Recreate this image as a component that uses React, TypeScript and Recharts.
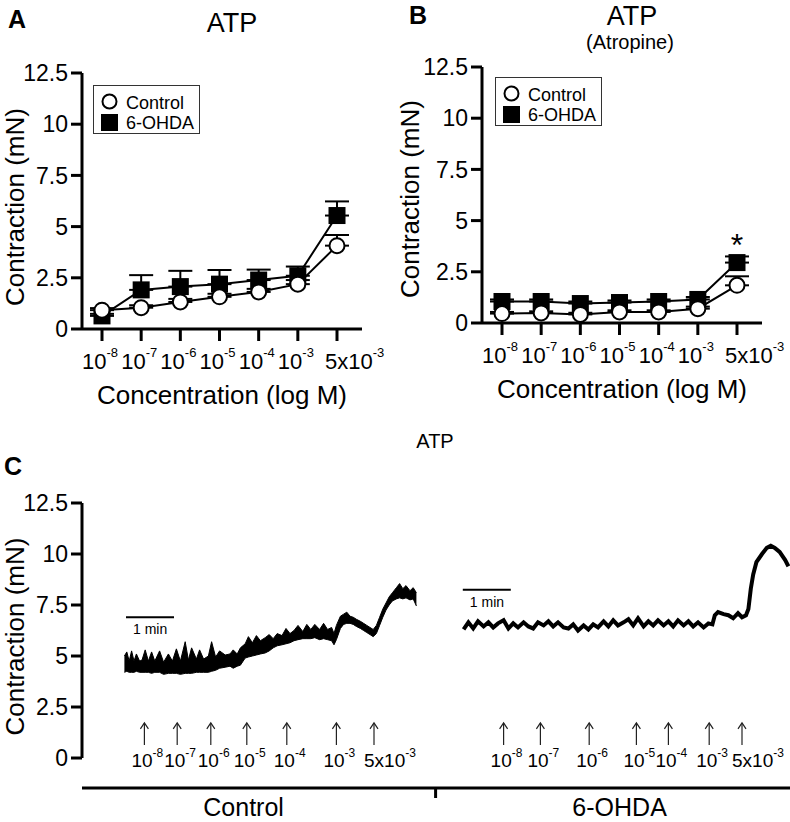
import React from 'react'
import {
  LineChart,
  ComposedChart,
  Line,
  Area,
  XAxis,
  YAxis,
  ErrorBar,
  Legend,
  LabelList,
  ReferenceDot,
  ReferenceLine,
} from 'recharts'

const FONT = '"Liberation Sans", Arial, Helvetica, sans-serif'

// ---- dose-response (panels A and B) ----
const concentrations = ['1e-8', '1e-7', '1e-6', '1e-5', '1e-4', '1e-3', '5e-3']
const concBase = ['10', '10', '10', '10', '10', '10', '5x10']
const concExp = ['-8', '-7', '-6', '-5', '-4', '-3', '-3']
const yTicks = [0, 2.5, 5, 7.5, 10, 12.5]

// A: ATP
const controlA = [0.92, 1.04, 1.32, 1.57, 1.81, 2.19, 4.07]
const controlAErr = [0.1, 0.12, 0.15, 0.15, 0.15, 0.2, 0.52]
const ohdaA = [0.64, 1.91, 2.07, 2.19, 2.39, 2.6, 5.54]
const ohdaAErr = [0.1, 0.72, 0.77, 0.69, 0.51, 0.45, 0.69]

// B: ATP with atropine
const controlB = [0.46, 0.49, 0.42, 0.54, 0.54, 0.7, 1.84]
const controlBErr = [0.08, 0.08, 0.08, 0.08, 0.08, 0.1, 0.44]
const ohdaB = [1.05, 1.05, 0.95, 1.0, 1.05, 1.15, 2.95]
const ohdaBErr = [0.1, 0.1, 0.1, 0.1, 0.1, 0.12, 0.3]
const signifB = ['', '', '', '', '', '', '*']

// ---- recording traces (panel C), time in seconds ----
const ctrlTime = [
  53, 56, 59, 62, 65, 68, 72, 75, 79, 83, 87, 91, 97, 102, 108, 113, 118, 123, 129, 133,
  137, 143, 147, 152, 158, 162, 167, 172, 179, 185, 189, 194, 198, 204, 208, 213, 218, 223, 229, 234,
  239, 244, 250, 255, 260, 265, 270, 276, 281, 286, 291, 297, 302, 307, 312, 315, 318, 323, 327, 331,
  335, 339, 343, 348, 352, 356, 360, 364, 368, 372, 376, 380, 384, 388, 393, 397, 401, 405, 410, 414, 418,
]
const ctrlLow = [
  4.2, 4.25, 4.2, 4.2, 4.2, 4.25, 4.2, 4.2, 4.2, 4.2, 4.15, 4.2, 4.2, 4.1, 4.15, 4.15, 4.15, 4.1, 4.15, 4.15,
  4.15, 4.2, 4.2, 4.2, 4.2, 4.25, 4.3, 4.4, 4.45, 4.5, 4.4, 4.5, 4.55, 4.9, 4.95, 5.0, 5.05, 5.1, 5.15, 5.25,
  5.4, 5.5, 5.55, 5.6, 5.65, 5.75, 5.8, 5.85, 5.85, 5.85, 5.9, 5.8, 5.85, 5.8, 5.75, 5.55, 5.8, 6.35, 6.55, 6.6,
  6.6, 6.55, 6.45, 6.35, 6.25, 6.15, 6.05, 5.95, 6.1, 6.5, 6.9, 7.25, 7.5, 7.7, 7.8, 7.85, 7.8, 7.85, 7.75, 7.8, 7.45,
]
const ctrlHigh = [
  5.0, 5.2, 4.75, 5.25, 4.75, 5.1, 4.75, 4.8, 5.3, 4.75, 5.2, 4.75, 5.25, 4.7, 5.1, 4.75, 5.35, 4.75, 5.7, 4.8,
  5.4, 4.85, 5.3, 4.85, 5.0, 5.7, 4.95, 5.25, 5.05, 5.1, 5.3, 5.1, 5.4, 5.6, 5.95, 5.65, 6.0, 5.75, 5.9, 6.05,
  5.85, 6.1, 6.0, 6.35, 6.1, 6.25, 6.5, 6.2, 6.55, 6.3, 6.55, 6.3, 6.6, 6.3, 6.4, 6.1, 6.5, 6.95, 7.05, 7.15,
  6.95, 6.9, 6.8, 6.7, 6.6, 6.5, 6.4, 6.3, 6.5, 6.9, 7.3, 7.6, 7.9, 8.1, 8.35, 8.55, 8.3, 8.45, 8.2, 8.35, 8.1,
]
const ohdaTime = [
  477, 483, 489, 495, 502, 508, 514, 520, 527, 533, 539, 545, 552, 558, 564, 570, 577, 583, 589, 595,
  602, 608, 614, 620, 627, 633, 639, 645, 652, 658, 664, 670, 677, 683, 689, 695, 702, 708, 714, 720,
  727, 733, 739, 745, 752, 758, 764, 770, 777, 783, 788, 791, 795, 802, 808, 814, 820, 825, 830, 833,
  836, 839, 843, 850, 856, 861, 866, 872, 879, 883,
]
const ohdaTrace = [
  6.3, 6.65, 6.35, 6.7, 6.45, 6.65, 6.4, 6.6, 6.75, 6.35, 6.6, 6.4, 6.65, 6.45, 6.35, 6.65, 6.5, 6.7, 6.45, 6.65,
  6.4, 6.35, 6.55, 6.25, 6.5, 6.3, 6.55, 6.4, 6.7, 6.45, 6.75, 6.5, 6.65, 6.8, 6.5, 6.85, 6.45, 6.7, 6.5, 6.75,
  6.5, 6.7, 6.45, 6.75, 6.5, 6.7, 6.45, 6.65, 6.4, 6.6, 6.55, 7.0, 7.15, 7.05, 7.0, 6.85, 7.1, 6.9, 7.0, 7.3,
  8.3, 9.0, 9.6, 10.0, 10.3, 10.4, 10.3, 10.1, 9.7, 9.4,
]
const timeDomain = [0, 885]
const traceYDomain = [-1.47, 12.5]
const ctrlDoseTimes = [78, 119, 161, 206, 256, 318, 365]
const ohdaDoseTimes = [527, 573, 634, 693, 733, 784, 825]
const arrowLevel = 1.72
const scaleBarStart = [55, 476]
const scaleBarLevel = [6.9, 8.25]
const scaleBarSeconds = 60
const groupNames = ['Control', '6-OHDA']
const groupCenters = [202, 672]
const groupDivider = 442

const rowsA = concentrations.map((conc, i) => ({
  conc,
  control: controlA[i],
  controlErr: [0, controlAErr[i]],
  ohda: ohdaA[i],
  ohdaErr: [0, ohdaAErr[i]],
}))
const rowsB = concentrations.map((conc, i) => ({
  conc,
  control: controlB[i],
  controlErr: [0, controlBErr[i]],
  ohda: ohdaB[i],
  ohdaErr: [0, ohdaBErr[i]],
  sig: signifB[i],
}))
const controlTrace = ctrlTime.map((t, i) => ({ t, band: [ctrlLow[i], ctrlHigh[i]] }))
const ohdaTraceRows = ohdaTime.map((t, i) => ({ t, v: ohdaTrace[i] }))

const axisStyle = { stroke: '#000', strokeWidth: 3 }

function ConcTick(props: any) {
  const { x, y, payload } = props
  const i = concentrations.indexOf(payload.value)
  const base = concBase[i]
  const lead = base.length > 2 ? -12 : -20
  return (
    <text x={x + lead} y={y + 28} fontSize={22} fill="#000">
      {base}
      <tspan dy={-12} fontSize={13}>
        {concExp[i]}
      </tspan>
    </text>
  )
}

function XTitle(props: any) {
  const { viewBox, text } = props
  return (
    <text x={viewBox.x + viewBox.width / 2} y={viewBox.y + 75} textAnchor="middle" fontSize={26} fill="#000">
      {text}
    </text>
  )
}

function YTitle(props: any) {
  const { viewBox, baseX, shift } = props
  const cy = viewBox.y + viewBox.height / 2 + shift
  return (
    <text x={baseX} y={cy} transform={`rotate(-90 ${baseX} ${cy})`} textAnchor="middle" fontSize={26} fill="#000">
      Contraction (mN)
    </text>
  )
}

function SeriesLegend(props: any) {
  const items = [...(props.payload || [])].sort((a: any, b: any) =>
    a.type === 'circle' ? -1 : b.type === 'circle' ? 1 : 0,
  )
  return (
    <svg width={107} height={49} style={{ display: 'block', fontFamily: FONT }}>
      <rect x={0.5} y={0.5} width={106} height={48} fill="#fff" stroke="#333" strokeWidth={1} />
      {items.map((it: any, i: number) => (
        <g key={it.value}>
          {it.type === 'circle' ? (
            <circle cx={16.5} cy={16.5 + i * 20.5} r={7} fill="#fff" stroke="#000" strokeWidth={2} />
          ) : (
            <rect x={8} y={29} width={17} height={17} fill="#000" />
          )}
          <text x={33} y={23.5 + i * 20.5} fontSize={18} fill="#000">
            {it.value}
          </text>
        </g>
      ))}
    </svg>
  )
}

const openCircle = (p: any) => (
  <circle key={`c${p.index}`} cx={p.cx} cy={p.cy} r={7.5} fill="#fff" stroke="#000" strokeWidth={2} />
)
const filledSquare = (p: any) => (
  <rect key={`s${p.index}`} x={p.cx - 8.5} y={p.cy - 8.5} width={17} height={17} fill="#000" />
)

function SigMark(props: any) {
  const { x, y, value } = props
  if (!value) return null
  return (
    <text x={x} y={y - 7} textAnchor="middle" fontSize={32} fill="#000">
      {value}
    </text>
  )
}

function DosePanel({ rows, left, legendPos, yLabelX, yShift, plotTop, axisWidth, sig }: any) {
  return (
    <div style={{ position: 'absolute', left, top: 0 }}>
      <LineChart
        width={left ? 400 : 390}
        height={420}
        data={rows}
        margin={{ top: plotTop, right: 28, bottom: 0, left: 0 }}
      >
        <XAxis
          dataKey="conc"
          height={420 - plotTop - 256}
          padding={{ left: 20, right: 25 }}
          interval={0}
          tickSize={12}
          tickMargin={0}
          tick={<ConcTick />}
          axisLine={axisStyle}
          tickLine={axisStyle}
          label={<XTitle text="Concentration (log M)" />}
        />
        <YAxis
          domain={[0, 12.5]}
          ticks={yTicks}
          width={axisWidth}
          tickSize={11}
          tickMargin={3}
          tick={{ fill: '#000', fontSize: 23 }}
          axisLine={axisStyle}
          tickLine={axisStyle}
          label={<YTitle baseX={yLabelX} shift={yShift} />}
        />
        <Legend
          layout="vertical"
          align="center"
          verticalAlign="middle"
          wrapperStyle={{ left: legendPos[0], top: legendPos[1], width: 107, height: 49 }}
          content={SeriesLegend}
        />
        <Line
          dataKey="ohda"
          name="6-OHDA"
          legendType="square"
          stroke="#000"
          strokeWidth={2}
          dot={filledSquare}
          activeDot={false}
          isAnimationActive={false}
        >
          <ErrorBar dataKey="ohdaErr" width={12} stroke="#000" strokeWidth={2} direction="y" />
          {sig ? <LabelList dataKey="sig" content={SigMark} /> : null}
        </Line>
        <Line
          dataKey="control"
          name="Control"
          legendType="circle"
          stroke="#000"
          strokeWidth={2}
          dot={openCircle}
          activeDot={false}
          isAnimationActive={false}
        >
          <ErrorBar dataKey="controlErr" width={12} stroke="#000" strokeWidth={2} direction="y" />
        </Line>
      </LineChart>
    </div>
  )
}

function DoseArrow({ cx, cy, base, exp }: any) {
  const lead = base.length > 2 ? -10 : -13
  return (
    <g>
      <line x1={cx} y1={cy} x2={cx} y2={cy + 22} stroke="#222" strokeWidth={1.2} />
      <path d={`M${cx - 4},${cy + 6} L${cx},${cy} L${cx + 4},${cy + 6}`} fill="none" stroke="#222" strokeWidth={1.2} />
      <text x={cx + lead} y={cy + 44} fontSize={19} fill="#000">
        {base}
        <tspan dy={-10} fontSize={12}>
          {exp}
        </tspan>
      </text>
    </g>
  )
}

function ScaleBarLabel(props: any) {
  const { viewBox } = props
  return (
    <text x={viewBox.x + 7} y={viewBox.y + 17} fontSize={14} fill="#000">
      1 min
    </text>
  )
}

function GroupTick(props: any) {
  const { x, y, payload } = props
  if (payload.value === groupDivider) {
    return <line x1={x} y1={y} x2={x} y2={y + 10} stroke="#000" strokeWidth={3} />
  }
  const name = groupNames[groupCenters.indexOf(payload.value)]
  return (
    <text x={x} y={y + 28} textAnchor="middle" fontSize={25} fill="#000">
      {name}
    </text>
  )
}

function TracePanel() {
  const doses = [
    ...ctrlDoseTimes.map((t, i) => ({ t, i })),
    ...ohdaDoseTimes.map((t, i) => ({ t, i })),
  ]
  return (
    <div style={{ position: 'absolute', left: 0, top: 460 }}>
      <ComposedChart width={790} height={362} margin={{ top: 43, right: 0, bottom: 0, left: 0 }}>
        <XAxis
          type="number"
          dataKey="t"
          domain={timeDomain}
          ticks={[groupCenters[0], groupDivider, groupCenters[1]]}
          interval={0}
          height={34}
          tickSize={0}
          tickMargin={0}
          tickLine={false}
          axisLine={axisStyle}
          tick={<GroupTick />}
        />
        <YAxis
          domain={traceYDomain}
          ticks={yTicks}
          width={82}
          tickSize={11}
          tickMargin={3}
          tick={{ fill: '#000', fontSize: 23 }}
          axisLine={false}
          tickLine={axisStyle}
          label={<YTitle baseX={24} shift={-9} />}
        />
        <ReferenceLine
          segment={[
            { x: timeDomain[0], y: 0 },
            { x: timeDomain[0], y: yTicks[yTicks.length - 1] },
          ]}
          stroke="#000"
          strokeWidth={3}
          ifOverflow="visible"
        />
        <Area
          data={controlTrace}
          dataKey="band"
          type="linear"
          stroke="#000"
          strokeWidth={1}
          fill="#000"
          fillOpacity={1}
          dot={false}
          activeDot={false}
          isAnimationActive={false}
        />
        <Line
          data={ohdaTraceRows}
          dataKey="v"
          type="linear"
          stroke="#000"
          strokeWidth={4}
          dot={false}
          activeDot={false}
          isAnimationActive={false}
        />
        {doses.map((d, k) => (
          <ReferenceDot
            key={`dose${k}`}
            x={d.t}
            y={arrowLevel}
            r={0}
            ifOverflow="visible"
            shape={(p: any) => <DoseArrow cx={p.cx} cy={p.cy} base={concBase[d.i]} exp={concExp[d.i]} />}
          />
        ))}
        {scaleBarStart.map((s, k) => (
          <ReferenceLine
            key={`bar${k}`}
            segment={[
              { x: s, y: scaleBarLevel[k] },
              { x: s + scaleBarSeconds, y: scaleBarLevel[k] },
            ]}
            stroke="#000"
            strokeWidth={2}
            ifOverflow="visible"
            label={<ScaleBarLabel />}
          />
        ))}
      </ComposedChart>
    </div>
  )
}

export default function App() {
  return (
    <div
      style={{
        position: 'absolute',
        left: 0,
        top: 0,
        width: 790,
        height: 822,
        background: '#fff',
        fontFamily: FONT,
        overflow: 'hidden',
      }}
    >
      <DosePanel rows={rowsA} left={0} legendPos={[93, 85]} yLabelX={24} yShift={6} plotTop={73} axisWidth={82} />
      <DosePanel
        rows={rowsB}
        left={390}
        legendPos={[105, 77]}
        yLabelX={29}
        yShift={4}
        plotTop={67}
        axisWidth={92}
        sig
      />
      <TracePanel />
      <svg width={790} height={822} style={{ position: 'absolute', left: 0, top: 0, pointerEvents: 'none' }}>
        <text x={8} y={28} fontSize={25} fontWeight="bold">A</text>
        <text x={232} y={32} fontSize={27} textAnchor="middle">ATP</text>
        <text x={409} y={24} fontSize={25} fontWeight="bold">B</text>
        <text x={632} y={25} fontSize={27} textAnchor="middle">ATP</text>
        <text x={630} y={49} fontSize={20} textAnchor="middle">(Atropine)</text>
        <text x={435} y={448} fontSize={20} textAnchor="middle">ATP</text>
        <text x={4} y={475} fontSize={25} fontWeight="bold">C</text>
      </svg>
    </div>
  )
}
